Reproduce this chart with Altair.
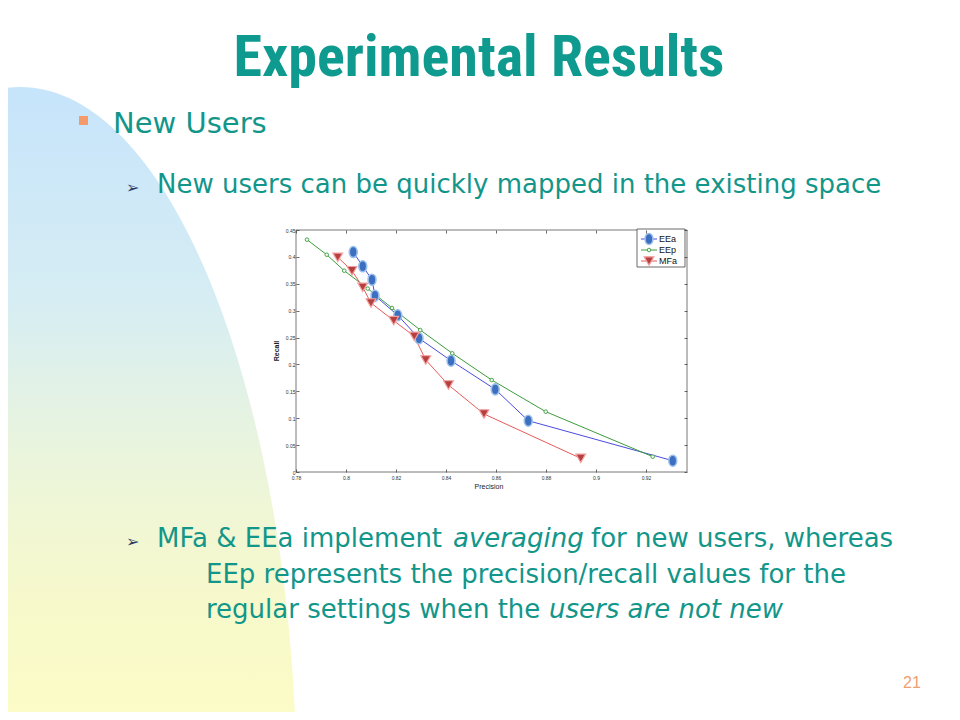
import altair as alt
import pandas as pd

# ---------------- data ----------------
series_names = ["EEa", "EEp", "MFa"]

eea_precision = [0.8029, 0.8067, 0.8104, 0.8116, 0.8207, 0.8292, 0.8420, 0.8597, 0.8729, 0.9307]
eea_recall = [0.409, 0.3825, 0.3576, 0.3278, 0.2914, 0.2486, 0.2070, 0.1537, 0.0954, 0.0210]

eep_precision = [0.7844, 0.7923, 0.7993, 0.8087, 0.8184, 0.8297, 0.8425, 0.8583, 0.8799, 0.9227]
eep_recall = [0.432, 0.404, 0.3743, 0.3410, 0.3050, 0.2640, 0.2207, 0.1710, 0.1122, 0.0285]

mfa_precision = [0.7967, 0.8024, 0.8067, 0.8100, 0.8191, 0.8273, 0.8319, 0.8410, 0.8552, 0.8939]
mfa_recall = [0.3993, 0.3743, 0.3434, 0.3143, 0.2814, 0.2523, 0.2083, 0.1618, 0.1079, 0.0254]

x_ticks = [0.78, 0.80, 0.82, 0.84, 0.86, 0.88, 0.90, 0.92]
y_ticks = [0, 0.05, 0.10, 0.15, 0.20, 0.25, 0.30, 0.35, 0.40, 0.45]

title_text = "Experimental Results"
bullet1_text = "New Users"
sub1_text = "New users can be quickly mapped in the existing space"
sub2a_text = "MFa & EEa implement"
sub2b_text = "averaging"
sub2c_text = "for new users, whereas"
sub3_text = "EEp represents the precision/recall values for the"
sub4a_text = "regular settings when the"
sub4b_text = "users are not new"
page_text = "21"

rows = []
for name, pr, rc in zip(series_names,
                        [eea_precision, eep_precision, mfa_precision],
                        [eea_recall, eep_recall, mfa_recall]):
    for i, (p, r) in enumerate(zip(pr, rc)):
        rows.append({"series": name, "precision": p, "recall": r, "idx": i})
df = pd.DataFrame(rows)
one = pd.DataFrame({"k": [0]})

# ---------------- layout helpers ----------------
W, H = 391, 242
OX, OY = 296, 230   # page position of the plot area's top-left


def px(X):
    return X - OX


def py(Y):
    return Y - OY


TEAL = "#12968a"
BODY_FONT = "DejaVu Sans"
BODY_SIZE = 26
line_colors = ["#4b4be0", "#3c9c3c", "#e85a5a"]

xs = alt.Scale(domain=[0.78, 0.9364], nice=False, zero=False)
ys = alt.Scale(domain=[0, 0.45], nice=False, zero=False)

axis_common = dict(domain=False, grid=False, ticks=True, tickSize=3, tickColor="#444",
                   tickWidth=0.8, offset=-3, labelFontSize=5, labelColor="#333",
                   labelFont="Liberation Sans", title=None, zindex=1, labelFlush=False)

# ---------------- background decoration ----------------
ellipse_path = "M 0 -1 A 0.388 1 0 1 1 0 1 A 0.388 1 0 1 1 0 -1 Z"
bg_grad = alt.Gradient(
    gradient="linear", x1=0, y1=0, x2=0, y2=1,
    stops=[alt.GradientStop(offset=0, color="#c6e4fb"),
           alt.GradientStop(offset=0.15, color="#d6edf3"),
           alt.GradientStop(offset=0.26, color="#ebf5dc"),
           alt.GradientStop(offset=0.36, color="#f7f9cb"),
           alt.GradientStop(offset=0.46, color="#fdfcc6"),
           alt.GradientStop(offset=1, color="#fdfcc6")])
bg = alt.Chart(one).mark_point(shape=ellipse_path, size=1428 ** 2, filled=True,
                                color=bg_grad, opacity=1, strokeOpacity=0).encode(
    x=alt.value(px(20)), y=alt.value(py(801)))

white_box = alt.Chart(one).mark_rect(color="white").encode(
    x=alt.value(px(273)), x2=alt.value(px(690)), y=alt.value(py(220)), y2=alt.value(py(492)))

# ---------------- chart ----------------
lines = alt.Chart(df).mark_line(strokeWidth=1).encode(
    x=alt.X("precision:Q", scale=xs,
            axis=alt.Axis(values=x_ticks, format="~g", orient="bottom", labelPadding=3, **axis_common)),
    y=alt.Y("recall:Q", scale=ys,
            axis=alt.Axis(values=y_ticks, format="~g", orient="left", labelPadding=1, **axis_common)),
    color=alt.Color("series:N", scale=alt.Scale(domain=series_names, range=line_colors), legend=None),
    order="idx:Q",
)

ticks2 = alt.Chart(df).mark_point(opacity=0).encode(
    x=alt.X("precision:Q", scale=xs,
            axis=alt.Axis(values=x_ticks, orient="top", labels=False, **axis_common)),
    y=alt.Y("recall:Q", scale=ys,
            axis=alt.Axis(values=y_ticks, orient="right", labels=False, **axis_common)),
)

eea_shape = "M 0 -1 A 0.72 1 0 1 1 0 1 A 0.72 1 0 1 1 0 -1 Z"
styles = {
    "EEa": dict(shape=eea_shape, size=121, filled=True, fill="#3d6fc0", stroke="#9cc0ec",
                strokeWidth=1.6, opacity=1),
    "EEp": dict(shape="circle", size=13, filled=False, stroke="#3c9c3c", strokeWidth=0.9,
                fill="#f4fbf4", opacity=1),
    "MFa": dict(shape="triangle-down", size=95, filled=True, fill="#b5403f", stroke="#f2a0a0",
                strokeWidth=1.2, opacity=1),
}


def pts(name):
    return alt.Chart(df).transform_filter(alt.datum.series == name).mark_point(**styles[name]).encode(
        x=alt.X("precision:Q", scale=xs, axis=None),
        y=alt.Y("recall:Q", scale=ys, axis=None),
    )


frame = alt.Chart(one).mark_rect(fillOpacity=0, stroke="#555", strokeWidth=0.8).encode(
    x=alt.value(0), x2=alt.value(W), y=alt.value(0), y2=alt.value(H))

# legend
legend_layers = [alt.Chart(one).mark_rect(fill="white", stroke="#444", strokeWidth=0.8).encode(
    x=alt.value(px(637)), x2=alt.value(px(685)), y=alt.value(py(229)), y2=alt.value(py(267)))]
for i, name in enumerate(series_names):
    yy = py(239 + 11 * i)
    legend_layers.append(alt.Chart(one).mark_rule(color=line_colors[i], strokeWidth=1).encode(
        x=alt.value(px(641)), x2=alt.value(px(657)), y=alt.value(yy)))
    st = dict(styles[name])
    legend_layers.append(alt.Chart(one).mark_point(**st).encode(
        x=alt.value(px(649)), y=alt.value(yy)))
    legend_layers.append(alt.Chart(one).mark_text(
        text=name, align="left", baseline="middle", font="Liberation Sans", fontSize=9,
        color="#111").encode(x=alt.value(px(659)), y=alt.value(yy)))

axis_titles = [
    alt.Chart(one).mark_text(text="Recall", angle=270, font="Liberation Sans", fontSize=7,
                             fontWeight="bold", color="#222", baseline="middle").encode(
        x=alt.value(px(277)), y=alt.value(py(351))),
    alt.Chart(one).mark_text(text="Precision", font="Liberation Sans", fontSize=7,
                             color="#222", baseline="middle").encode(
        x=alt.value(px(489)), y=alt.value(py(487))),
]


# ---------------- slide text ----------------
def txt(t, X, Y, size, align="left", style="normal", weight="normal", color=TEAL, font=BODY_FONT):
    return alt.Chart(one).mark_text(text=t, align=align, baseline="alphabetic", font=font,
                                    fontSize=size, fontStyle=style, fontWeight=weight,
                                    color=color).encode(x=alt.value(px(X)), y=alt.value(py(Y)))


slide = [
    txt(title_text, 479, 76, 58, align="center", weight="bold", color="#0e9a8e",
        font="'Noto Sans Condensed', 'Roboto Condensed', 'Liberation Sans'"),
    alt.Chart(one).mark_rect(color="#f59b6b").encode(
        x=alt.value(px(79)), x2=alt.value(px(88)), y=alt.value(py(116)), y2=alt.value(py(125))),
    txt(bullet1_text, 113, 133, 29),
    txt("\u27a2", 126, 193, 16, color="#2b3a67"),
    txt(sub1_text, 157, 193, BODY_SIZE),
    txt("\u27a2", 126, 547, 16, color="#2b3a67"),
    txt(sub2a_text, 157, 547, BODY_SIZE),
    txt(sub2b_text, 453, 547, BODY_SIZE, style="italic"),
    txt(sub2c_text, 591, 547, BODY_SIZE),
    txt(sub3_text, 206, 583, BODY_SIZE),
    txt(sub4a_text, 206, 618, BODY_SIZE),
    txt(sub4b_text, 549, 618, BODY_SIZE, style="italic"),
    txt(page_text, 912, 688, 16, align="center", color="#f0a070", font="Liberation Sans"),
]

layers = [bg, white_box, lines, ticks2, pts("EEa"), pts("EEp"), pts("MFa"), frame] + \
    legend_layers + axis_titles + slide

chart = alt.layer(*layers).resolve_axis(x="independent", y="independent").properties(
    width=W, height=H,
    padding={"left": OX - 8, "top": OY - 8, "right": 944 - (OX - 8) - W, "bottom": 704 - (OY - 8) - H},
    autosize=alt.AutoSizeParams(type="none"),
).configure(background="white").configure_view(stroke=None)

chart.save("out.html", embed_options={"renderer": "svg", "actions": False})
